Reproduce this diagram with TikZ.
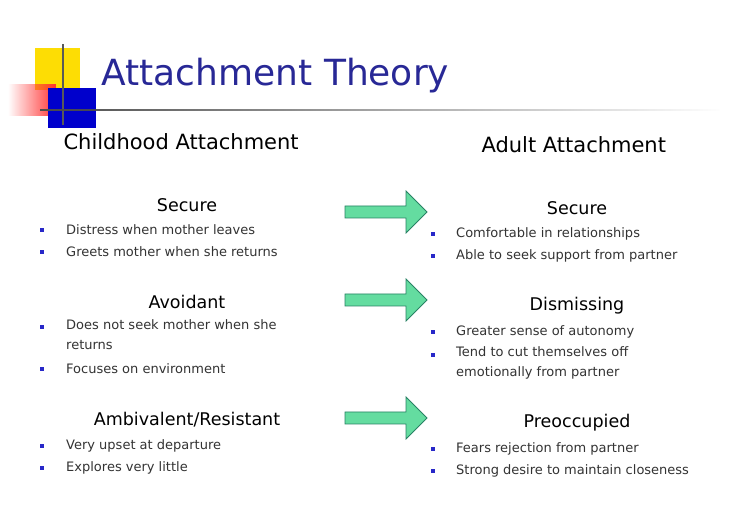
\documentclass[tikz,border=0pt]{standalone}
\usepackage{fontspec}
\setmainfont{DejaVu Sans}
\usetikzlibrary{shapes.arrows,fadings}
\definecolor{ttl}{RGB}{40,40,150}
\definecolor{bul}{RGB}{40,40,200}
\definecolor{arr}{RGB}{100,220,160}
\definecolor{arrd}{RGB}{40,130,100}
\tikzset{
 head/.style={anchor=west,font=\fontsize{21}{24}\selectfont},
 sect/.style={font=\fontsize{17.5}{20}\selectfont},
 item/.style={anchor=west,align=left,font=\fontsize{13}{20}\selectfont,text=black!80,inner sep=0pt},
 dot/.style={fill=bul,minimum size=4pt,inner sep=0pt},
 bigarrow/.style={single arrow,draw=arrd,fill=arr,minimum height=82pt,minimum width=42pt,single arrow head extend=6pt,inner sep=2pt,line width=0.8pt}
}
\begin{document}
\begin{tikzpicture}[x=1pt,y=-1pt]
\useasboundingbox (0,0) rectangle (750,510);
\fill[white] (0,0) rectangle (750,510);
% logo
\fill[yellow!80!orange] (35,48) rectangle (80,90);
\fill[red!80,path fading=west] (8,84) rectangle (56,116);
\fill[blue!80!black] (48,88) rectangle (96,128);
\draw[gray!70!black,line width=2pt] (63,44) -- (63,125);
\draw[gray!60!black,line width=2.5pt,path fading=east] (40,110) -- (720,110);
\node[anchor=west,text=ttl,font=\fontsize{36}{40}\selectfont] (title) at (98,76) {Attachment Theory};
\node[head] (ch) at (60,142) {Childhood Attachment};
\node[head] (ad) at (478,145) {Adult Attachment};
% left
\node[sect] (s1) at (187,205) {Secure};
\node[item] (l1a) at (66,230) {Distress when mother leaves};
\node[item] (l1b) at (66,252) {Greets mother when she returns};
\node[sect] (s2) at (187,302) {Avoidant};
\node[item,anchor=north west] (l2a) at (66,319) {Does not seek mother when she\\returns};
\node[item] (l2b) at (66,369) {Focuses on environment};
\node[sect] (s3) at (187,420) {Ambivalent/Resistant};
\node[item] (l3a) at (66,446) {Very upset at departure};
\node[item] (l3b) at (66,468) {Explores very little};
% right
\node[sect] (r1) at (577,208) {Secure};
\node[item] (m1a) at (456,234) {Comfortable in relationships};
\node[item] (m1b) at (456,256) {Able to seek support from partner};
\node[sect] (r2) at (577,306) {Dismissing};
\node[item] (m2a) at (456,332) {Greater sense of autonomy};
\node[item,anchor=north west] (m2b) at (456,346) {Tend to cut themselves off\\emotionally from partner};
\node[sect] (r3) at (577,423) {Preoccupied};
\node[item] (m3a) at (456,449) {Fears rejection from partner};
\node[item] (m3b) at (456,471) {Strong desire to maintain closeness};
% bullets
\foreach \x/\y in {42/230,42/252,42/327,42/369,42/446,42/468,433/234,433/256,433/332,433/355,433/449,433/471}
  \node[dot] at (\x,\y) {};
% arrows
\node[bigarrow] (a1) at (383,212) {};
\node[bigarrow] (a2) at (383,300) {};
\node[bigarrow] (a3) at (383,418) {};
\end{tikzpicture}
\end{document}
